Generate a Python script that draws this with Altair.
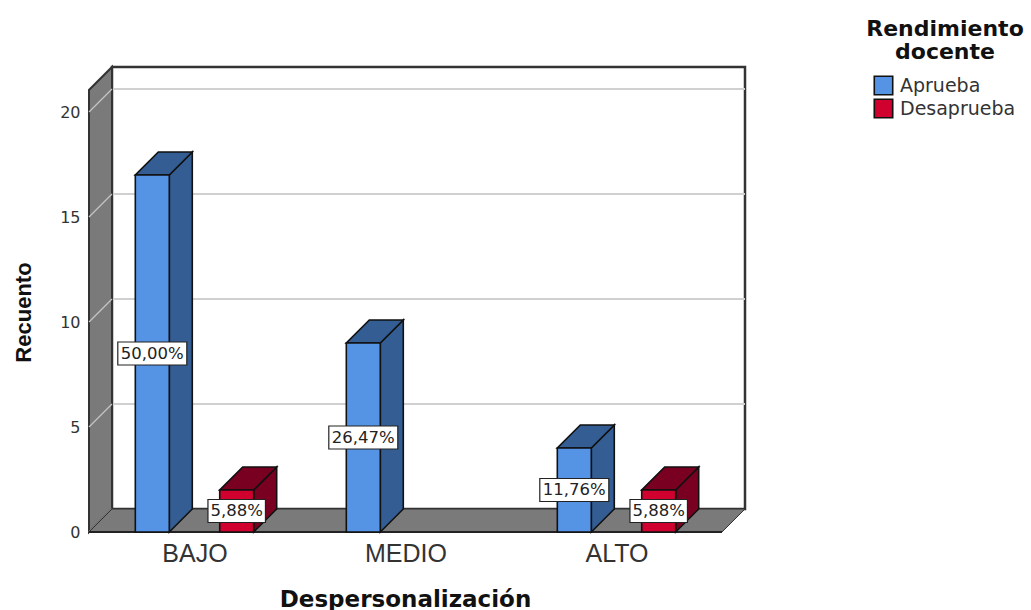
import altair as alt

# Counts per burnout level and teaching-performance outcome
categories = ["BAJO", "MEDIO", "ALTO"]
aprueba = [17, 9, 4]
desaprueba = [2, 0, 2]
series_names = ["Aprueba", "Desaprueba"]
total = 34
front_colors = ["#5593E4", "#D0002F"]
dark_colors = ["#335D93", "#7A0022"]

# Extruded-box geometry, in scale units
DX, DY = 0.109, 23 / 21
BAR_W = 0.161
BAR_SHIFT = 0.2
XMAX, YMAX = 3 + DX, 465 / 21
TOP = YMAX - DY
TICKS = [0, 5, 10, 15, 20]
BOX_H = 23 / 21 / 2

bars, sides, tops, boxes, texts = [], [], [], [], []
for s, (name, values) in enumerate(zip(series_names, [aprueba, desaprueba])):
    for g, v in enumerate(values):
        if v == 0:
            continue
        xc = g + 0.5 + (2 * s - 1) * BAR_SHIFT
        xl, xr = xc - BAR_W / 2, xc + BAR_W / 2
        key = f"{s}-{g}"
        bars.append(dict(serie=name, x=xl, x2=xr, y=0, y2=v))
        sides += [
            dict(k=key, c=dark_colors[s], x=xr, y=0, y2=v),
            dict(k=key, c=dark_colors[s], x=xr + DX, y=DY, y2=v + DY),
        ]
        tops += [
            dict(k=key, c=dark_colors[s], x=xl, y=v, y2=v),
            dict(k=key, c=dark_colors[s], x=xl + DX, y=v, y2=v + DY),
            dict(k=key, c=dark_colors[s], x=xr, y=v, y2=v + DY),
            dict(k=key, c=dark_colors[s], x=xr + DX, y=v + DY, y2=v + DY),
        ]
        text = f"{100 * v / total:.2f}".replace(".", ",") + "%"
        hw = len(text) * 0.0545 / 2
        boxes.append(dict(x=xc - hw, x2=xc + hw, y=v / 2 - BOX_H, y2=v / 2 + BOX_H))
        texts.append(dict(x=xc, y=v / 2, text=text))

label_lookup = "[" + ",".join(f"'{c}'" for c in categories) + "]"

x_enc = alt.X(
    "x:Q",
    scale=alt.Scale(domain=[0, XMAX], nice=False, zero=False),
    axis=alt.Axis(
        values=[0.5, 1.5, 2.5],
        labelExpr=label_lookup + "[floor(datum.value)]",
        domain=False, ticks=False, grid=False,
        labelFont="Liberation Sans", labelFontSize=25, labelColor="#333333",
        labelPadding=9, labelFlush=False, labelOverlap=False,
        title="Despersonalización", titleFont="DejaVu Sans", titleFontSize=23,
        titleFontWeight="bold", titleColor="#111111", titleX=316, titleY=67,
        titleBaseline="middle", titleAlign="center",
    ),
)
y_enc = alt.Y(
    "y:Q",
    stack=None,
    scale=alt.Scale(domain=[0, YMAX], nice=False, zero=False),
    axis=alt.Axis(
        values=TICKS, domain=False, ticks=False, grid=False,
        labelFont="DejaVu Sans", labelFontSize=16, labelColor="#333333", labelPadding=9,
        title="Recuento", titleFont="Liberation Sans", titleFontSize=22,
        titleFontWeight="bold", titleColor="#111111", titleAngle=-90,
        titleX=-66, titleY=245, titleBaseline="middle", titleAlign="center",
    ),
)


def table(rows):
    return alt.Data(values=rows)


# Back wall, and its horizontal grid
back = alt.Chart(table([dict(x=DX, x2=XMAX, y=DY, y2=YMAX)])).mark_rect(
    fill="white", stroke="#333333", strokeWidth=2.5
).encode(x=x_enc, x2="x2:Q", y=y_enc, y2="y2:Q")

back_grid = alt.Chart(table([dict(x=DX, x2=XMAX, y=t + DY) for t in TICKS[1:]])).mark_rule(
    color="#D0D0D0", strokeWidth=2
).encode(x=x_enc, x2="x2:Q", y=y_enc)

# Left wall, with grid lines running into the depth
wall = alt.Chart(table([dict(x=0, y=0, y2=TOP), dict(x=DX, y=DY, y2=TOP + DY)])).mark_area(
    fill="#7A7A7A", stroke="#333333", strokeWidth=2, orient="vertical"
).encode(x=x_enc, y=y_enc, y2="y2:Q")

wall_rows = []
for t in TICKS:
    wall_rows += [dict(t=t, x=0, y=t), dict(t=t, x=DX, y=t + DY)]
wall_grid = alt.Chart(table(wall_rows)).mark_line(
    color="#C4C4C4", strokeWidth=1.3
).encode(x=x_enc, y=y_enc, detail="t:N")

# Floor parallelogram and the front baseline
floor = alt.Chart(table([
    dict(x=0, y=0, y2=0), dict(x=DX, y=0, y2=DY),
    dict(x=3, y=0, y2=DY), dict(x=XMAX, y=DY, y2=DY),
])).mark_area(fill="#7A7A7A", stroke="#333333", strokeWidth=1, orient="vertical").encode(
    x=x_enc, y=y_enc, y2="y2:Q"
)

baseline = alt.Chart(table([dict(x=0, x2=3, y=0)])).mark_rule(
    color="#222222", strokeWidth=2
).encode(x=x_enc, x2="x2:Q", y=y_enc)

# Boxes: side, top, front
side = alt.Chart(table(sides)).mark_area(
    stroke="#111111", strokeWidth=1.6, orient="vertical"
).encode(x=x_enc, y=y_enc, y2="y2:Q", detail="k:N", fill=alt.Fill("c:N", scale=None))

top = alt.Chart(table(tops)).mark_area(
    stroke="#111111", strokeWidth=1.6, orient="vertical"
).encode(x=x_enc, y=y_enc, y2="y2:Q", detail="k:N", fill=alt.Fill("c:N", scale=None))

front = alt.Chart(table(bars)).mark_rect(stroke="#111111", strokeWidth=1.6).encode(
    x=x_enc, x2="x2:Q", y=y_enc, y2="y2:Q",
    fill=alt.Fill(
        "serie:N",
        scale=alt.Scale(domain=series_names, range=front_colors),
        legend=alt.Legend(
            orient="none", legendX=777, legendY=-48,
            title=["Rendimiento", "docente"],
            titleFont="DejaVu Sans", titleFontSize=22, titleFontWeight="bold",
            titleColor="#111111", titleLineHeight=23, titleAnchor="middle",
            titleAlign="center", titlePadding=11,
            labelFont="DejaVu Sans", labelFontSize=19, labelColor="#333333",
            labelOffset=6, symbolType="square", symbolSize=340,
            symbolStrokeColor="#111111", symbolStrokeWidth=1.6, symbolOpacity=1,
            symbolOffset=-1, rowPadding=-2, padding=0,
        ),
    ),
)

# Percentage call-outs
label_box = alt.Chart(table(boxes)).mark_rect(
    fill="white", stroke="#222222", strokeWidth=1.2
).encode(x=x_enc, x2="x2:Q", y=y_enc, y2="y2:Q")

label_text = alt.Chart(table(texts)).mark_text(
    font="DejaVu Sans", fontSize=16.5, color="#222222", baseline="middle", align="center"
).encode(x=x_enc, y=y_enc, text="text:N")

chart = alt.layer(
    back, back_grid, wall, wall_grid, floor, baseline, side, top, front, label_box, label_text
).properties(
    width=656, height=465, background="white",
    padding={"left": 89, "top": 67, "right": 286, "bottom": 78},
    autosize=alt.AutoSizeParams(type="none"),
).configure_view(stroke=None)

chart.save("out.html", embed_options={"renderer": "svg", "actions": False})
